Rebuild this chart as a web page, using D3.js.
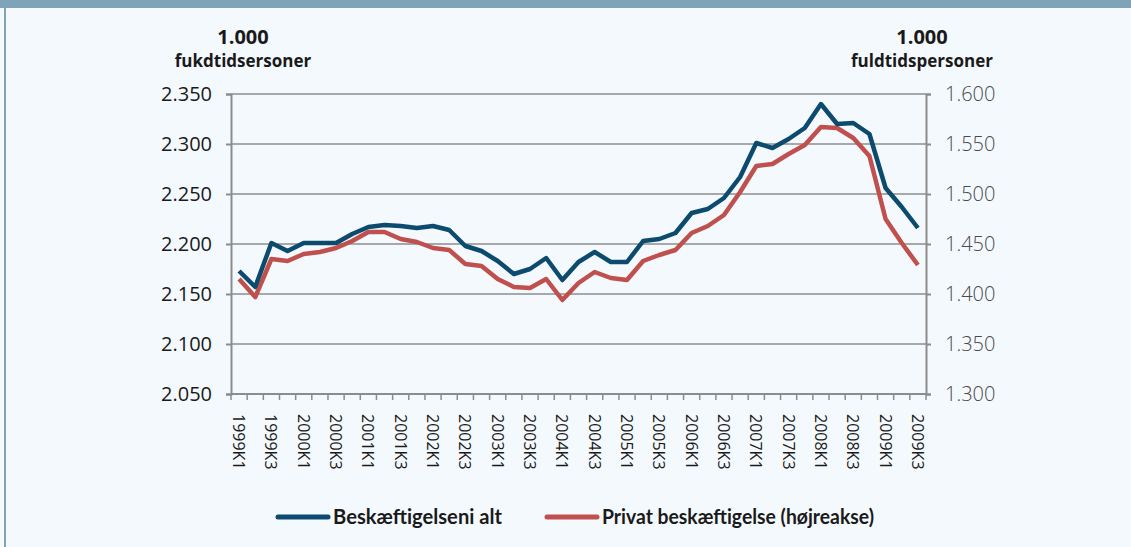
<!DOCTYPE html>
<html>
<head>
<meta charset="utf-8">
<script src="https://cdn.jsdelivr.net/npm/d3@7"></script>
<style>
  body { margin: 0; background: #f4f9fd; }
  svg text { font-family: "Open Sans", "DejaVu Sans", sans-serif; }
  .legend text { font-family: "Lato", "Open Sans", sans-serif; font-weight: bold; }
</style>
</head>
<body>
<div id="chart"></div>
<script>
// quarters 1999K1 .. 2009K3
let years = d3.range(1999, 2010);
let quarters = [];
years.forEach(y => [1, 2, 3, 4].forEach(q => quarters.push(y + 'K' + q)));
quarters = quarters.slice(0, 43);

// total employment, 1.000 full-time persons (left axis)
let totalEmp = [2173, 2157, 2201, 2193, 2201, 2201, 2201, 2210, 2217, 2219,
  2218, 2216, 2218, 2214, 2198, 2193, 2183, 2170, 2175, 2186,
  2164, 2182, 2192, 2182, 2182, 2203, 2205, 2211, 2231, 2235,
  2246, 2267, 2301, 2296, 2305, 2316, 2340, 2320, 2321, 2310,
  2256, 2237, 2216];

// private employment (right axis)
let privateEmp = [1415, 1397, 1435, 1433, 1440, 1442, 1446, 1453, 1462, 1462,
  1455, 1452, 1446, 1444, 1430, 1428, 1415, 1407, 1406, 1415,
  1394, 1411, 1422, 1416, 1414, 1433, 1439, 1444, 1461, 1468,
  1479, 1502, 1528, 1530, 1540, 1549, 1567, 1566, 1556, 1538,
  1475, 1451, 1429];

let leftTicks = [2050, 2100, 2150, 2200, 2250, 2300, 2350];
let rightTicks = [1300, 1350, 1400, 1450, 1500, 1550, 1600];

let svgWidth = 1131;
let svgHeight = 547;
let margin = { top: 94, right: 205, bottom: 153, left: 231 };
let width = svgWidth - margin.left - margin.right;
let height = svgHeight - margin.top - margin.bottom;

let svg = d3.select('#chart').append('svg')
  .attr('width', svgWidth)
  .attr('height', svgHeight);

// frame: top band and left rule
svg.append('rect').attr('x', 0).attr('y', 0).attr('width', svgWidth).attr('height', 8).attr('fill', '#7fa3b8');
svg.append('rect').attr('x', 4).attr('y', 8).attr('width', 2).attr('height', svgHeight - 8).attr('fill', '#7fa3b8');

let chartGroup = svg.append('g')
  .attr('transform', `translate(${margin.left}, ${margin.top})`);

let x = d3.scaleBand().domain(quarters).range([0, width]);
let yLeft = d3.scaleLinear().domain([2050, 2350]).range([height, 0]);
let yRight = d3.scaleLinear().domain([1300, 1600]).range([height, 0]);

// gridlines
chartGroup.append('g')
  .selectAll('line')
  .data(leftTicks.slice(1))
  .enter()
  .append('line')
  .attr('x1', 0).attr('x2', width)
  .attr('y1', d => yLeft(d)).attr('y2', d => yLeft(d))
  .attr('stroke', '#8c8c8c').attr('stroke-width', 1.5);

// left axis
let leftAxis = chartGroup.append('g')
  .call(d3.axisLeft(yLeft).tickValues(leftTicks).tickSize(5).tickPadding(14)
    .tickFormat(d => d3.format('.3f')(d / 1000)));
leftAxis.attr('font-size', 20);
leftAxis.select('.domain').attr('stroke', '#8c8c8c').attr('stroke-width', 2);
leftAxis.selectAll('.tick line').attr('stroke', '#8c8c8c').attr('stroke-width', 2);
leftAxis.selectAll('text').attr('fill', '#1a1a1a');

// right axis
let rightAxis = chartGroup.append('g')
  .attr('transform', `translate(${width}, 0)`)
  .call(d3.axisRight(yRight).tickValues(rightTicks).tickSize(5).tickPadding(14)
    .tickFormat(d => d3.format('.3f')(d / 1000)));
rightAxis.attr('font-size', 20);
rightAxis.select('.domain').attr('stroke', '#8c8c8c').attr('stroke-width', 2);
rightAxis.selectAll('.tick line').attr('stroke', '#8c8c8c').attr('stroke-width', 2);
rightAxis.selectAll('text').attr('fill', '#4a4a4a').attr('font-weight', 300);

// bottom axis: ticks on category boundaries
let xAxis = chartGroup.append('g').attr('transform', `translate(0, ${height})`);
xAxis.append('line').attr('x1', 0).attr('x2', width).attr('stroke', '#8c8c8c').attr('stroke-width', 2);
xAxis.selectAll('.qtick')
  .data(quarters.concat(['end']))
  .enter()
  .append('line')
  .classed('qtick', true)
  .attr('x1', (d, i) => i * x.step()).attr('x2', (d, i) => i * x.step())
  .attr('y1', 0).attr('y2', 6)
  .attr('stroke', '#8c8c8c').attr('stroke-width', 1.5);
xAxis.selectAll('.qlabel')
  .data(quarters.filter((d, i) => i % 2 === 0))
  .enter()
  .append('text')
  .classed('qlabel', true)
  .attr('transform', d => `translate(${x(d) + x.bandwidth() / 2 - 6}, 20) rotate(90)`)
  .style('font-size', '16px')
  .attr('fill', '#1a1a1a')
  .text(d => d);

// lines
let lineLeft = d3.line().x((d, i) => x(quarters[i]) + x.bandwidth() / 2).y(d => yLeft(d));
let lineRight = d3.line().x((d, i) => x(quarters[i]) + x.bandwidth() / 2).y(d => yRight(d));

chartGroup.append('path').datum(privateEmp)
  .attr('d', lineRight).attr('fill', 'none')
  .attr('stroke', '#c0504d').attr('stroke-width', 4.5).attr('stroke-linejoin', 'round');
chartGroup.append('path').datum(totalEmp)
  .attr('d', lineLeft).attr('fill', 'none')
  .attr('stroke', '#0c4a6e').attr('stroke-width', 4.5).attr('stroke-linejoin', 'round');

// axis titles
let titles = [
  { x: 243, lines: ['1.000', 'fukdtidsersoner'] },
  { x: 922, lines: ['1.000', 'fuldtidspersoner'] }
];
titles.forEach(t => {
  t.lines.forEach((s, i) => {
    svg.append('text')
      .attr('x', t.x).attr('y', 44 + i * 23)
      .attr('text-anchor', 'middle')
      .attr('font-size', i === 0 ? 20 : 17)
      .attr('font-weight', 'bold')
      .attr('fill', '#1a1a1a')
      .text(s);
  });
});

// legend
let legendItems = [
  { label: 'Beskæftigelseni alt', color: '#0c4a6e', x: 278, w: 169 },
  { label: 'Privat beskæftigelse (højreakse)', color: '#c0504d', x: 547, w: 272 }
];
let legend = svg.append('g').classed('legend', true);
legendItems.forEach(d => {
  legend.append('line')
    .attr('x1', d.x).attr('x2', d.x + 50)
    .attr('y1', 517).attr('y2', 517)
    .attr('stroke', d.color).attr('stroke-width', 5).attr('stroke-linecap', 'round');
  legend.append('text')
    .attr('x', d.x + 55).attr('y', 524)
    .style('font-size', '20px')
    .attr('textLength', d.w)
    .attr('lengthAdjust', 'spacingAndGlyphs')
    .attr('fill', '#1a1a1a')
    .text(d.label);
});
</script>
</body>
</html>
